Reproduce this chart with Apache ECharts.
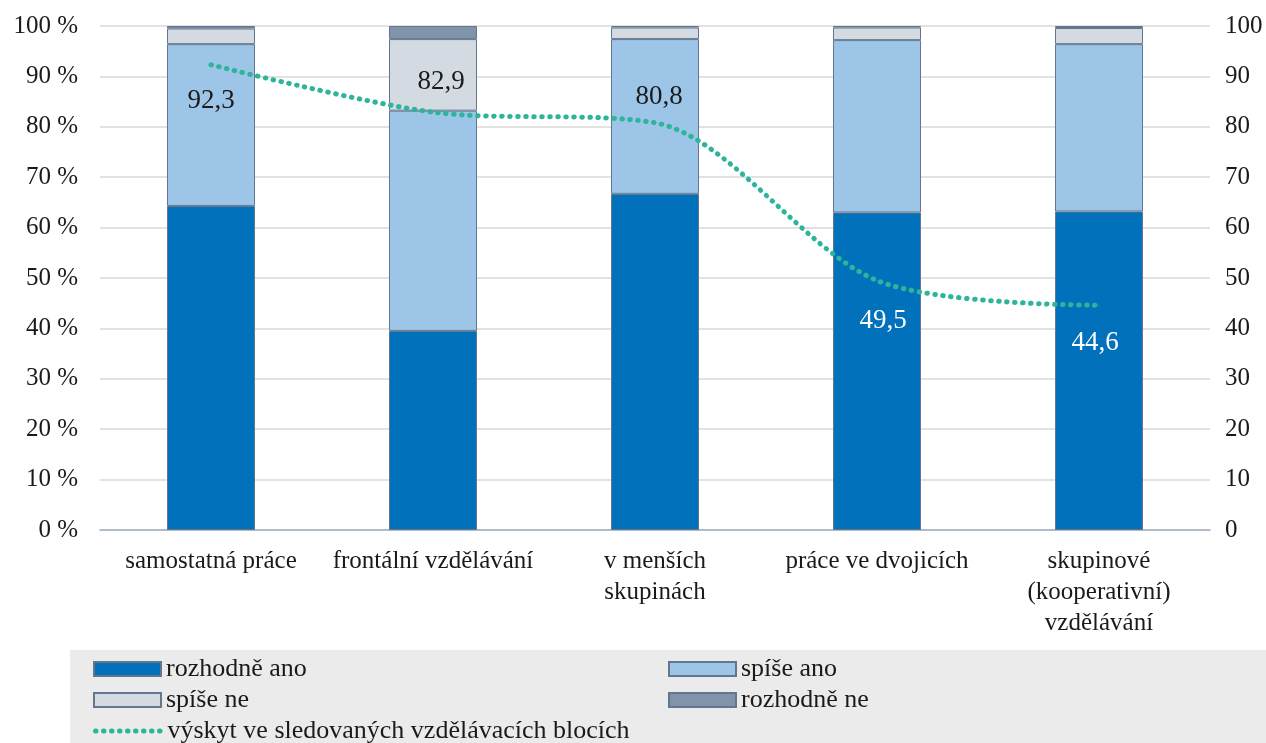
<!DOCTYPE html>
<html lang="cs">
<head>
    <meta charset="UTF-8">
    <script src="https://cdn.jsdelivr.net/npm/echarts@6/dist/echarts.min.js"></script>
    <title>Formy výuky</title>
    <style>
        html, body { margin: 0; padding: 0; background: #ffffff; }
        #chart { width: 1266px; height: 743px; }
    </style>
</head>
<body>
    <div id="chart"></div>
    <script>
        // data
        var categories = ['samostatná práce', 'frontální vzdělávání', 'v menších\nskupinách', 'práce ve dvojicích', 'skupinové\n(kooperativní)\nvzdělávání'];
        var rozhodneAno = [64.3, 39.5, 66.7, 63.0, 63.2];
        var spiseAno = [32.1, 43.7, 30.7, 34.2, 33.2];
        var spiseNe = [3.1, 14.2, 2.3, 2.5, 3.2];
        var rozhodneNe = [0.5, 2.6, 0.3, 0.3, 0.4];
        var vyskyt = [92.3, 82.9, 80.8, 49.5, 44.6];
        var leftTicks = ['0 %', '10 %', '20 %', '30 %', '40 %', '50 %', '60 %', '70 %', '80 %', '90 %', '100 %'];

        var font = 'Liberation Serif, Times New Roman, serif';
        var chart = echarts.init(document.getElementById('chart'));

        // poloha a barva popisku u každého bodu čáry
        var labelPos = [
            { offset: [0, 36], color: '#1a1a1a' },
            { offset: [8, -30], color: '#1a1a1a' },
            { offset: [4, -26], color: '#1a1a1a' },
            { offset: [6, 40], color: '#ffffff' },
            { offset: [-4, 38], color: '#ffffff' }
        ];
        var lineData = vyskyt.map(function (v, i) {
            return {
                value: v,
                label: { offset: labelPos[i].offset, color: labelPos[i].color }
            };
        });

        function barSeries(name, data, color) {
            return {
                name: name,
                type: 'bar',
                stack: 'total',
                data: data,
                barWidth: 88,
                itemStyle: { color: color, borderColor: '#62768d', borderWidth: 1 }
            };
        }

        var legendText = { fontFamily: font, fontSize: 26, color: '#1a1a1a' };
        function legendAt(name, left, top, isLine) {
            var lg = {
                data: [{ name: name, icon: isLine ? undefined : 'rect' }],
                left: left, top: top, itemWidth: 67, itemHeight: 14,
                itemGap: 6, padding: 0, textStyle: legendText, selectedMode: false
            };
            if (isLine) {
                lg.itemStyle = { opacity: 0 };
                lg.lineStyle = { width: 5 };
            }
            return lg;
        }

        chart.setOption({
            animation: false,
            textStyle: { fontFamily: font },
            grid: { left: 100, right: 56, top: 26, bottom: 213 },
            graphic: [{
                type: 'rect', left: 70, top: 650,
                shape: { width: 1196, height: 93 },
                style: { fill: '#ebebeb' }, silent: true, z: -1
            }],
            legend: [
                legendAt('rozhodně ano', 93, 656),
                legendAt('spíše ano', 668, 656),
                legendAt('spíše ne', 93, 687),
                legendAt('rozhodně ne', 668, 687),
                legendAt('výskyt ve sledovaných vzdělávacích blocích', 93, 718, true)
            ],
            xAxis: {
                type: 'category',
                data: categories,
                axisLine: { lineStyle: { color: '#a3afc0', width: 1.5 } },
                axisTick: { show: false },
                axisLabel: { fontFamily: font, fontSize: 25, color: '#1a1a1a', margin: 16, lineHeight: 31, interval: 0 }
            },
            yAxis: [{
                type: 'value', min: 0, max: 100, interval: 10,
                axisLabel: {
                    fontFamily: font, fontSize: 25, color: '#1a1a1a', margin: 22,
                    formatter: function (v) { return leftTicks[v / 10]; }
                },
                splitLine: { lineStyle: { color: '#d9d9d9', width: 1.5 } },
                axisLine: { show: false }, axisTick: { show: false }
            }, {
                type: 'value', min: 0, max: 100, interval: 10, position: 'right',
                axisLabel: { fontFamily: font, fontSize: 25, color: '#1a1a1a', margin: 15 },
                splitLine: { show: false }, axisLine: { show: false }, axisTick: { show: false }
            }],
            series: [
                barSeries('rozhodně ano', rozhodneAno, '#0071ba'),
                barSeries('spíše ano', spiseAno, '#9dc5e7'),
                barSeries('spíše ne', spiseNe, '#d3dae1'),
                barSeries('rozhodně ne', rozhodneNe, '#8193a8'),
                {
                    name: 'výskyt ve sledovaných vzdělávacích blocích',
                    type: 'line',
                    yAxisIndex: 1,
                    data: lineData,
                    smooth: 0.3,
                    symbol: 'circle',
                    symbolSize: 1,
                    showSymbol: true,
                    z: 5,
                    itemStyle: { color: '#2db59c' },
                    lineStyle: { color: '#2db59c', width: 5, type: [0.5, 7.5], cap: 'round' },
                    label: {
                        show: true, position: 'inside', fontFamily: font, fontSize: 27,
                        formatter: function (p) { return String(p.value).replace('.', ','); }
                    }
                }
            ]
        });
    </script>
</body>
</html>
